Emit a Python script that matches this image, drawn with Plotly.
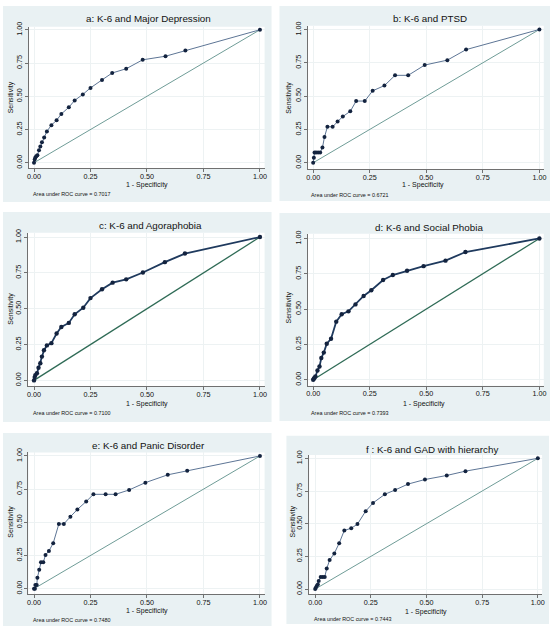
import plotly.graph_objects as go

W, H = 555, 630

# ---------------- data ----------------
titles = [
    "a: K-6 and Major Depression",
    "b: K-6 and PTSD",
    "c: K-6 and Agoraphobia",
    "d: K-6 and Social Phobia",
    "e: K-6 and Panic Disorder",
    "f : K-6 and GAD with hierarchy",
]
auc_values = ["0.7017", "0.6721", "0.7100", "0.7393", "0.7480", "0.7443"]

a_fpr = [0, 0.003, 0.006, 0.01, 0.015, 0.022, 0.028, 0.035, 0.045, 0.057, 0.077, 0.1, 0.121,
         0.154, 0.18, 0.216, 0.25, 0.301, 0.346, 0.408, 0.481, 0.582, 0.67, 1]
a_sens = [0, 0.025, 0.04, 0.05, 0.057, 0.094, 0.122, 0.154, 0.19, 0.236, 0.283, 0.32, 0.367,
          0.417, 0.469, 0.514, 0.563, 0.623, 0.675, 0.707, 0.774, 0.801, 0.844, 1]

b_fpr = [0, 0.003, 0.006, 0.013, 0.022, 0.031, 0.041, 0.05, 0.063, 0.086, 0.108, 0.131, 0.164,
         0.19, 0.228, 0.263, 0.315, 0.362, 0.42, 0.493, 0.593, 0.676, 1]
b_sens = [0, 0.037, 0.077, 0.077, 0.077, 0.077, 0.114, 0.193, 0.27, 0.27, 0.309, 0.347, 0.386,
          0.463, 0.463, 0.54, 0.579, 0.656, 0.656, 0.733, 0.77, 0.849, 1]

c_fpr = [0, 0.003, 0.006, 0.013, 0.02, 0.028, 0.035, 0.044, 0.057, 0.077, 0.1, 0.121, 0.154,
         0.18, 0.218, 0.25, 0.301, 0.348, 0.408, 0.482, 0.579, 0.668, 1]
c_sens = [0, 0.023, 0.037, 0.05, 0.088, 0.12, 0.166, 0.21, 0.244, 0.26, 0.327, 0.373, 0.401,
          0.461, 0.507, 0.574, 0.636, 0.682, 0.705, 0.753, 0.825, 0.885, 1]

d_fpr = [0, 0.003, 0.006, 0.01, 0.019, 0.028, 0.036, 0.047, 0.06, 0.079, 0.102, 0.126, 0.156,
         0.187, 0.223, 0.257, 0.309, 0.352, 0.415, 0.488, 0.585, 0.673, 1]
d_sens = [0, 0.007, 0.014, 0.023, 0.065, 0.093, 0.154, 0.192, 0.255, 0.29, 0.411, 0.463, 0.484,
          0.533, 0.593, 0.633, 0.706, 0.741, 0.771, 0.804, 0.843, 0.904, 1]

e_fpr = [0, 0.004, 0.006, 0.012, 0.015, 0.023, 0.031, 0.041, 0.051, 0.066, 0.085, 0.11, 0.132,
         0.161, 0.192, 0.231, 0.263, 0.317, 0.361, 0.421, 0.493, 0.592, 0.678, 1]
e_sens = [0, 0, 0.027, 0.027, 0.082, 0.142, 0.199, 0.199, 0.254, 0.284, 0.343, 0.488, 0.488,
          0.542, 0.597, 0.657, 0.711, 0.711, 0.711, 0.744, 0.799, 0.858, 0.888, 1]

f_fpr = [0, 0.003, 0.007, 0.012, 0.016, 0.025, 0.034, 0.043, 0.052, 0.065, 0.086, 0.108, 0.131,
         0.162, 0.19, 0.227, 0.26, 0.313, 0.359, 0.417, 0.493, 0.591, 0.675, 1]
f_sens = [0, 0.01, 0.023, 0.035, 0.061, 0.093, 0.093, 0.093, 0.157, 0.222, 0.273, 0.351, 0.449,
          0.465, 0.497, 0.596, 0.659, 0.725, 0.758, 0.803, 0.838, 0.869, 0.902, 1]

diag_x = [0, 1]
diag_y = [0, 1]

tick_vals = [0, 0.25, 0.5, 0.75, 1]
tick_text = ["0.00", "0.25", "0.50", "0.75", "1.00"]

series = [(a_fpr, a_sens), (b_fpr, b_sens), (c_fpr, c_sens),
          (d_fpr, d_sens), (e_fpr, e_sens), (f_fpr, f_sens)]

# ---------------- layout geometry (pixels) ----------------
# panel background box: (left, top, right, bottom)
panel_boxes = [(1, 1, 272, 199), (280, 1, 553, 198),
               (1, 209, 272, 421), (280, 210, 553, 420),
               (1, 432, 272, 627), (287, 435, 552, 625)]
# plot area: (left, top, right, bottom)
plot_boxes = [(27, 22, 265, 165), (308.3, 21, 546.7, 165.7),
              (26, 230, 265, 385), (308.3, 231, 546.7, 384.3),
              (26.7, 451.7, 265, 595), (310, 454.3, 545, 595)]
# pixel position of data 0 and 1: (x0, x1, y0, y1)
data_px = [(32.3, 260.3, 159.3, 25), (314, 542.3, 159.3, 24.7),
           (32.3, 260.3, 379, 234.3), (314, 542.3, 378.3, 235.7),
           (32.3, 260.3, 589.3, 455.3), (316, 540.7, 589.7, 457.7)]
title_pos = [(148.3, 14), (432, 14), (149.7, 222.3), (431, 224.3), (147.5, 444.3), (434.3, 448.3)]
xtitle_pos = [(146.8, 181.7), (425, 181.7), (146.7, 403.3), (425.8, 403.3), (146.3, 611.7), (428.3, 612.7)]
ytitle_pos = [(9, 93.3), (290, 93.3), (9, 306.7), (290, 305), (9, 521.7), (293.3, 521.7)]
auc_pos = [(29, 190.7), (310, 191.7), (29, 411.7), (310, 411.7), (29, 620.7), (313.3, 620)]

thick = [False, False, True, True, False, False]

FONT = "Liberation Sans, Arial, sans-serif"
BG = "#e9f1f3"

fig = go.Figure()
shapes = []
annotations = []
layout_axes = {}

def px_x(v):
    return v / W

def px_y(v):
    return 1 - v / H

for i in range(6):
    n = "" if i == 0 else str(i + 1)
    xs, ys = series[i]
    L, T, R, B = plot_boxes[i]
    x0, x1, y0, y1 = data_px[i]
    xr = [(L - x0) / (x1 - x0), (R - x0) / (x1 - x0)]
    yr = [(y0 - B) / (y0 - y1), (y0 - T) / (y0 - y1)]

    diag_col = "#2f6b56" if thick[i] else "#6f9c97"
    line_col = "#1f3a5e" if thick[i] else "#5d7595"
    fig.add_trace(go.Scatter(x=diag_x, y=diag_y, mode="lines",
                             line=dict(color=diag_col, width=1.3 if thick[i] else 1),
                             xaxis="x" + n, yaxis="y" + n, showlegend=False,
                             hoverinfo="skip"))
    fig.add_trace(go.Scatter(x=xs, y=ys, mode="lines+markers",
                             line=dict(color=line_col, width=1.8 if thick[i] else 1),
                             marker=dict(color="#13233f", size=4 if not thick[i] else 4.4),
                             xaxis="x" + n, yaxis="y" + n, showlegend=False))

    common = dict(tickvals=tick_vals, ticktext=tick_text, showline=True,
                  linecolor="#707070", linewidth=1, ticks="outside", ticklen=3,
                  tickcolor="#707070", tickwidth=1,
                  tickfont=dict(size=7.2, color="#111111", family=FONT),
                  showgrid=True, gridcolor="#edf2f3", gridwidth=1, zeroline=False,
                  fixedrange=True)
    layout_axes["xaxis" + n] = dict(domain=[px_x(L), px_x(R)], range=xr,
                                    anchor="y" + n, ticklabelstandoff=-2, **common)
    layout_axes["yaxis" + n] = dict(domain=[px_y(B), px_y(T)], range=yr,
                                    anchor="x" + n, tickangle=-90, **common)

    pL, pT, pR, pB = panel_boxes[i]
    shapes.append(dict(type="rect", xref="paper", yref="paper",
                       x0=px_x(pL), x1=px_x(pR), y0=px_y(pB), y1=px_y(pT),
                       fillcolor=BG, line=dict(width=0), layer="below"))
    shapes.append(dict(type="rect", xref="paper", yref="paper",
                       x0=px_x(L), x1=px_x(R), y0=px_y(B), y1=px_y(T),
                       fillcolor="white", line=dict(width=0), layer="below"))

    tx, ty = title_pos[i]
    annotations.append(dict(text=titles[i], x=px_x(tx), y=px_y(ty), xref="paper", yref="paper",
                            showarrow=False, xanchor="center", yanchor="middle",
                            font=dict(size=9.8, color="#111111", family=FONT)))
    tx, ty = xtitle_pos[i]
    annotations.append(dict(text="1 - Specificity", x=px_x(tx), y=px_y(ty), xref="paper",
                            yref="paper", showarrow=False, xanchor="center", yanchor="middle",
                            font=dict(size=7, color="#111111", family=FONT)))
    tx, ty = ytitle_pos[i]
    annotations.append(dict(text="Sensitivity", x=px_x(tx), y=px_y(ty), xref="paper",
                            yref="paper", showarrow=False, xanchor="center", yanchor="middle",
                            textangle=-90,
                            font=dict(size=7, color="#111111", family=FONT)))
    tx, ty = auc_pos[i]
    annotations.append(dict(text="Area under ROC curve = " + auc_values[i], x=px_x(tx),
                            y=px_y(ty), xref="paper", yref="paper", showarrow=False,
                            xanchor="left", yanchor="middle",
                            font=dict(size=5.4, color="#111111", family=FONT)))

fig.update_layout(width=W, height=H, margin=dict(l=0, r=0, t=0, b=0),
                  paper_bgcolor="white", plot_bgcolor="rgba(0,0,0,0)",
                  shapes=shapes, annotations=annotations, showlegend=False,
                  **layout_axes)

fig.write_html("out.html", config={"displayModeBar": False},
               post_script="document.body.style.margin='0px';document.body.style.padding='0px';")
